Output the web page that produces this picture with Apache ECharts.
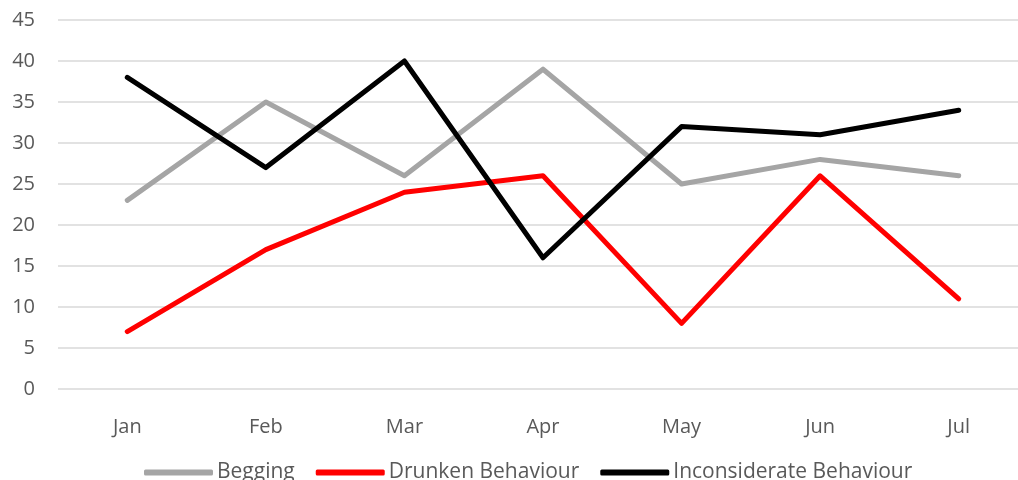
<!DOCTYPE html>
<html><head><meta charset="utf-8">
<script src="https://cdn.jsdelivr.net/npm/echarts@6/dist/echarts.min.js"></script>
<style>html,body{margin:0;padding:0;background:#fff}#c{width:1018px;height:480px}</style>
</head><body><div id="c"></div>
<script>
const categories = ['Jan','Feb','Mar','Apr','May','Jun','Jul'];
const begging = [23, 35, 26, 39, 25, 28, 26];
const drunken = [7, 17, 24, 26, 8, 26, 11];
const inconsiderate = [38, 27, 40, 16, 32, 31, 34];
const seriesNames = ['Begging','Drunken Behaviour','Inconsiderate Behaviour'];
const colors = ['#A5A5A5','#FF0000','#000000'];

const chart = echarts.init(document.getElementById('c'), null, {renderer:'canvas'});
const font = '"Open Sans", sans-serif';
const mk = (name, data, color) => ({
  name, type:'line', data, symbol:'none', smooth:false,
  lineStyle:{color, width:5, cap:'round', join:'round'}, itemStyle:{color}
});
chart.setOption({
  animation:false,
  grid:{left:58, width:970, top:20, height:369, outerBoundsMode:'none', containLabel:false},
  legend:{
    top:462, left:144, padding:0, itemGap:21, itemWidth:69, itemHeight:6,
    icon:'roundRect',
    textStyle:{fontFamily:font, fontSize:21, color:'#595959', padding:[0,0,0,-1]},
    data:seriesNames
  },
  xAxis:{
    type:'category', data:categories, boundaryGap:true,
    axisLine:{show:false}, axisTick:{show:false},
    axisLabel:{fontFamily:font, fontSize:20, color:'#595959', margin:28}
  },
  yAxis:{
    type:'value', min:0, max:45, interval:5,
    axisLine:{show:false}, axisTick:{show:false},
    axisLabel:{fontFamily:font, fontSize:20, color:'#595959', margin:23},
    splitLine:{lineStyle:{color:'#D9D9D9', width:1.5}}
  },
  series:[mk(seriesNames[0], begging, colors[0]), mk(seriesNames[1], drunken, colors[1]), mk(seriesNames[2], inconsiderate, colors[2])]
});
</script></body></html>
